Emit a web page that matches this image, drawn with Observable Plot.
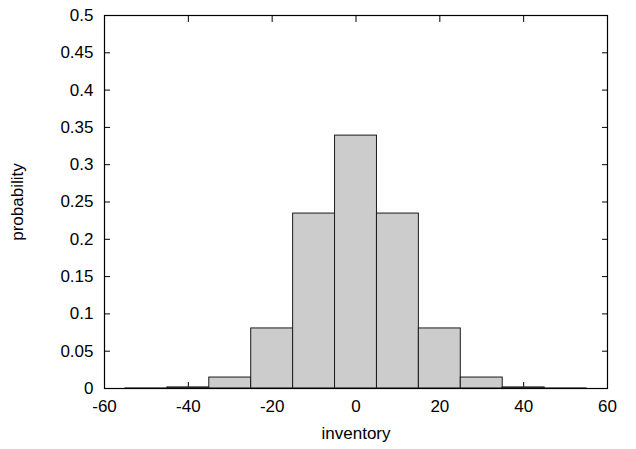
<!DOCTYPE html>
<html>
<head>
<meta charset="utf-8">
<script src="https://cdn.jsdelivr.net/npm/d3@7"></script>
<script src="https://cdn.jsdelivr.net/npm/@observablehq/plot@0.6"></script>
<style>
  html, body { margin: 0; padding: 0; background: #fff; }
  svg { display: block; }
</style>
</head>
<body>
<div id="chart"></div>
<script>
const binCenters = [-50, -40, -30, -20, -10, 0, 10, 20, 30, 40, 50];
const probabilities = [0.0001, 0.0015, 0.0147, 0.0805, 0.2345, 0.339, 0.2345, 0.0805, 0.0147, 0.0015, 0.0001];
const binWidth = 10;
const xTicks = [-60, -40, -20, 0, 20, 40, 60];
const yTicks = [0, 0.05, 0.1, 0.15, 0.2, 0.25, 0.3, 0.35, 0.4, 0.45, 0.5];

const bins = binCenters.map((c, i) => ({x1: c - binWidth / 2, x2: c + binWidth / 2, p: probabilities[i]}));

const chart = Plot.plot({
  width: 636,
  height: 449,
  marginLeft: 104,
  marginRight: 29,
  marginTop: 15,
  marginBottom: 61,
  style: {fontFamily: "'Liberation Sans', Arial, sans-serif", fontSize: "17px", color: "#000", background: "#fff"},
  x: {domain: [-60, 60]},
  y: {domain: [0, 0.5]},
  marks: [
    // inward ticks on all four sides
    Plot.axisX(xTicks, {anchor: "bottom", tickSize: -6, tickFormat: () => "", label: null, strokeWidth: 1}),
    Plot.axisX(xTicks, {anchor: "top", tickSize: -6, tickFormat: () => "", label: null, strokeWidth: 1}),
    Plot.axisY(yTicks, {anchor: "left", tickSize: -6, tickFormat: () => "", label: null, strokeWidth: 1}),
    Plot.axisY(yTicks, {anchor: "right", tickSize: -6, tickFormat: () => "", label: null, strokeWidth: 1}),
    Plot.rectY(bins, {x1: "x1", x2: "x2", y: "p", fill: "#cccccc", stroke: "#1a1a1a", strokeWidth: 1}),
    Plot.frame({stroke: "#000", strokeWidth: 1.2}),
    Plot.axisX(xTicks, {anchor: "bottom", tickSize: 0, tickPadding: 11, tickFormat: d => String(d),
      label: "inventory", labelAnchor: "center", labelArrow: "none", labelOffset: 50}),
    Plot.axisY(yTicks, {anchor: "left", tickSize: 0, tickPadding: 11, tickFormat: d => String(d),
      label: "probability", labelAnchor: "center", labelArrow: "none", labelOffset: 94})
  ]
});
document.getElementById("chart").appendChild(chart);
</script>
</body>
</html>
